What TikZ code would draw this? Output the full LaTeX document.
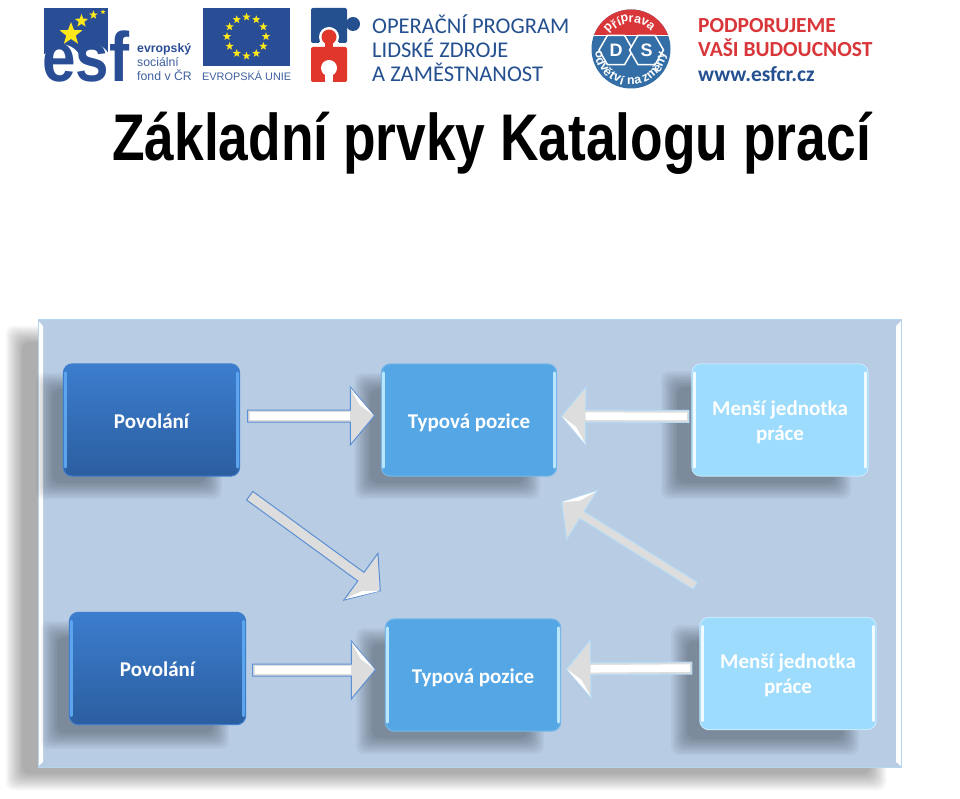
\documentclass[tikz,border=0pt]{standalone}
\usepackage{fontspec}
\setmainfont{Liberation Sans}
\newfontfamily\carlito{Carlito}
\usetikzlibrary{calc,shapes.geometric}
\definecolor{panelc}{HTML}{B8CCE4}
\definecolor{esfblue}{HTML}{2A4E96}
\definecolor{esftext}{HTML}{40609F}
\definecolor{oplzblue}{HTML}{24508F}
\definecolor{oplzred}{HTML}{E0362C}
\definecolor{dsblue}{HTML}{336FA6}
\definecolor{dsred}{HTML}{D9363A}
\definecolor{starc}{HTML}{FFE81A}
\definecolor{arrowgray}{HTML}{DDDDDD}
\definecolor{arrowblue}{HTML}{5B8FD3}
\definecolor{arrowpale}{HTML}{B4DCF6}
\definecolor{midblue}{HTML}{55A6E4}
\definecolor{paleblue}{HTML}{9EDCFD}
\definecolor{boxtop}{HTML}{3C7DCE}
\definecolor{boxbot}{HTML}{2B5E9F}
\definecolor{darkstrip}{HTML}{5CA5EC}
\tikzset{
  fatarrow/.style={line width=1pt,line join=miter,fill=arrowgray,
    to path={
      ($(\tikztostart)!#1!90:(\tikztotarget)$)
      -- ($($(\tikztotarget)!24pt!(\tikztostart)$)!#1!90:(\tikztotarget)$)
      -- ($($(\tikztotarget)!24pt!(\tikztostart)$)!29pt!90:(\tikztotarget)$)
      -- (\tikztotarget)
      -- ($($(\tikztotarget)!24pt!(\tikztostart)$)!29pt!-90:(\tikztotarget)$)
      -- ($($(\tikztotarget)!24pt!(\tikztostart)$)!#1!-90:(\tikztotarget)$)
      -- ($(\tikztostart)!#1!-90:(\tikztotarget)$) -- cycle}},
  bluearrow/.style={fatarrow=#1,draw=arrowblue},
  palearrow/.style={fatarrow=#1,draw=arrowpale},
  boxtext/.style={font=\carlito\bfseries\fontsize{21}{25}\selectfont,text=white,align=center},
  boxshape/.style={draw=none,rounded corners=9pt,inner sep=0pt,minimum width=#1,minimum height=112pt,boxtext},
  darkbox/.style={boxshape=176pt,top color=boxtop,bottom color=boxbot},
  midbox/.style={boxshape=175pt,fill=midblue},
  palebox/.style={boxshape=176pt,fill=paleblue},
  eustar/.style={star,star points=5,star point ratio=2.4,fill=starc,draw=none,inner sep=0pt,minimum size=#1},
  lbl/.style={inner sep=0pt,anchor=base west},
  esfsmall/.style={lbl,text=esftext,font=\fontsize{12.3}{13}\selectfont},
  oplztext/.style={lbl,text=oplzblue,font=\carlito\fontsize{22.5}{24}\selectfont},
  redtext/.style={lbl,text=dsred,font=\carlito\bfseries\fontsize{21.5}{24}\selectfont},
  hexnut/.style={regular polygon,regular polygon sides=6,draw=white,line width=1.5pt,fill=dsblue,
     minimum size=34pt,inner sep=0pt,text=white,font=\bfseries\fontsize{18}{18}\selectfont},
  ringletter/.style={inner sep=0pt,text=white,font=\bfseries\fontsize{12.5}{12.5}\selectfont},
}
\newcommand\lowered[2]{\raisebox{-#1}[\height][\depth]{#2}}
\newcommand\softshadow[6]{%
  \foreach \k in {9,7,5,3,1,-1,-3,-5,-7}{
    \fill[#5,opacity=#6,rounded corners=8pt]
      (#1-\k,#2-\k) rectangle (#3+\k,#4+\k);}}
\newcommand\edgestrip[4]{%
  \draw[#2,line width=3pt,line cap=round] ($(#1.north west)+(#3,9)$) -- ($(#1.south west)+(#3,-9)$);
  \draw[#2,line width=3pt,line cap=round] ($(#1.north east)+(-#3,9)$) -- ($(#1.south east)+(-#3,-9)$);
  \draw[#4,line width=1pt,rounded corners=9pt] (#1.north west) rectangle (#1.south east);}
\newcommand\headbevel[3]{%
  \coordinate (hb) at ($(#2)!24pt!(#1)$);
  \coordinate (hc) at ($(hb)!28pt!#3:(#2)$);
  \fill[white] (hc) -- (#2) -- ($(hc)!.5!(#2)!4pt!(hb)$) -- cycle;}
\newcommand\shaftstripe[2]{%
  \draw[white,line width=7.5pt] ($(#1)!2pt!(#2)$) -- ($(#2)!24pt!(#1)$);}
\begin{document}
\begin{tikzpicture}[x=1pt,y=-1pt]
\useasboundingbox (0,0) rectangle (960,799);
\fill[white] (0,0) rectangle (960,799);
%% ESF logo
\fill[esfblue] (44,8) rectangle (108,54);
\fill[white] (62,65) ellipse (20 and 20.5);
\fill[white] (94,65) ellipse (17.5 and 20.5);
\node[lbl,text=esfblue,font=\bfseries\fontsize{70}{70}\selectfont] (esf) at (42,82) {\scalebox{.86}[1]{esf}};
\node[eustar=24pt] (st1) at (71,34) {};
\node[eustar=14pt] (st2) at (81.5,21) {};
\node[eustar=9pt] (st3) at (93.5,15) {};
\node[eustar=5pt] (st4) at (103,12) {};
\node[lbl,text=esfblue,font=\bfseries\fontsize{12.3}{13}\selectfont] (e1) at (137,53) {evropský};
\node[esfsmall] (e2) at (137,67) {sociální};
\node[esfsmall] (e3) at (137,81) {fond v ČR};
%% EU flag
\fill[esfblue] (203,8) rectangle (290,66);
\foreach \i in {0,30,...,330}{
  \node[eustar=8.5pt] (eu\i) at ($(246.5,36.5)+(\i:19.5)$) {};}
\node[esfsmall,font=\fontsize{10.9}{13}\selectfont] (e4) at (202,81) {EVROPSKÁ UNIE};
%% OP LZ logo
\fill[oplzblue,rounded corners=2pt] (311,8) rectangle (347,43);
\fill[oplzblue] (345,20) rectangle (352,28);
\fill[oplzblue] (353,24) circle (7);
\fill[white] (329,37) circle (10);
\fill[white] (319,42) rectangle (339,47);
\fill[oplzred,rounded corners=2pt] (311,47) rectangle (347,82);
\fill[oplzred] (329,37) circle (7.5);
\fill[oplzred] (325,42) rectangle (333,48);
\fill[white] (329,68) circle (8);
\fill[white] (325,70) rectangle (333,83);
\node[oplztext] (o1) at (372,34) {OPERAČNÍ PROGRAM};
\node[oplztext] (o2) at (372,58) {LIDSKÉ ZDROJE};
\node[oplztext] (o3) at (372,82) {A ZAMĚSTNANOST};
%% DS logo
\coordinate (dsc) at (631,49);
\begin{scope}
\clip (dsc) circle (39.5);
\fill[dsblue] (590,8) rectangle (672,90);
\fill[dsred] (590,8) rectangle (672,35);
\fill[white] (590,35) rectangle (672,36.5);
\end{scope}
\node[hexnut] (dsd) at (616,50) {D};
\node[hexnut] (dss) at (646.5,50) {S};
\foreach \c/\a [count=\n] in {p/137,ř/124,í/114,p/102,r/90,a/77,v/63,a/49}{
  \node[ringletter,rotate=\a-90] (dt\n) at ($(dsc)+({cos(\a)*30},{-sin(\a)*30})$) {\c};}
\foreach \c/\a [count=\n] in {o/190,d/202,v/214,ě/225,t/235,v/245,í/254,n/270,a/282,z/297,m/311,ě/324,n/336,y/348}{
  \node[ringletter,rotate=\a+90] (db\n) at ($(dsc)+({cos(\a)*32.5},{-sin(\a)*32.5})$) {\c};}
%% right claim
\node[redtext] (r1) at (698,33) {PODPORUJEME};
\node[redtext] (r2) at (698,57) {VAŠI BUDOUCNOST};
\node[lbl,text=oplzblue,font=\carlito\bfseries\fontsize{21.5}{24}\selectfont] (r3) at (698,82) {www.esfcr.cz};
%% title
\node[lbl,text=black,font=\bfseries\fontsize{66}{70}\selectfont] (title) at (112,160.5) {\scalebox{.808}[1]{Základní prvky Katalogu prací}};
%% panel
\softshadow{15}{335}{877}{781}{black}{0.04}
\fill[panelc] (38,319) rectangle (901,767);
\fill[white] (38.5,321) -- (43,326) -- (43,762) -- (38.5,766) -- cycle;
\fill[white] (901,321) -- (896,326) -- (896,762) -- (901,766) -- cycle;
\draw[draw=arrowpale!60!panelc,line width=1pt] (38,319) rectangle (901,767);
%% box shadows
\softshadow{45}{382}{213}{490}{black}{0.04}
\softshadow{363}{382}{531}{490}{black}{0.04}
\softshadow{670}{380}{842}{490}{black}{0.04}
\softshadow{50}{630}{220}{740}{black}{0.04}
\softshadow{365}{637}{535}{745}{black}{0.04}
\softshadow{680}{634}{850}{746}{black}{0.04}
%% boxes
\node[darkbox] (b1) at (151.5,420) {\lowered{1pt}{Povolání}};
\node[midbox] (b2) at (469,420) {\lowered{3pt}{Typová pozice}};
\node[palebox] (b3) at (780,420) {\lowered{3pt}{\begin{tabular}{@{}c@{}}Menší jednotka\\práce\end{tabular}}};
\node[darkbox] (b4) at (157.5,668.5) {\lowered{1pt}{Povolání}};
\node[midbox] (b5) at (473,675) {\lowered{3pt}{Typová pozice}};
\node[palebox] (b6) at (788,673.5) {\lowered{2pt}{\begin{tabular}{@{}c@{}}Menší jednotka\\práce\end{tabular}}};
\edgestrip{b1}{darkstrip}{2.5}{boxtop}
\edgestrip{b4}{darkstrip}{2.5}{boxtop}
\edgestrip{b2}{paleblue!70!white}{2.5}{midblue!80!white}
\edgestrip{b5}{paleblue!70!white}{2.5}{midblue!80!white}
\edgestrip{b3}{white!85!paleblue}{2.5}{paleblue!60!white}
\edgestrip{b6}{white!85!paleblue}{2.5}{paleblue!60!white}
%% arrows
\coordinate (a1s) at ($(b1.east)+(8,-4)$);
\coordinate (a1e) at ($(b2.west)+(-7,-4)$);
\coordinate (a2s) at ($(b3.west)+(-3,-3.5)$);
\coordinate (a2e) at ($(b2.east)+(5,-4)$);
\coordinate (a3s) at ($(b1.south east)+(10,19.5)$);
\coordinate (a3e) at ($(b5.north west)+(-5,-28)$);
\coordinate (a4s) at ($(b6.north west)+(-4.5,-31.5)$);
\coordinate (a4e) at ($(b2.south east)+(5,26)$);
\coordinate (a5s) at ($(b4.east)+(7,1.5)$);
\coordinate (a5e) at ($(b5.west)+(-10,-5)$);
\coordinate (a6s) at ($(b6.west)+(-8,-5.5)$);
\coordinate (a6e) at ($(b5.east)+(6,-6)$);
\draw[bluearrow=6pt] (a1s) to (a1e);
\shaftstripe{a1s}{a1e}
\headbevel{a1s}{a1e}{90}
\draw[palearrow=6pt] (a2s) to (a2e);
\shaftstripe{a2s}{a2e}
\headbevel{a2s}{a2e}{90}
\draw[bluearrow=5.3pt] (a3s) to (a3e);
\headbevel{a3s}{a3e}{-90}
\draw[palearrow=4.2pt] (a4s) to (a4e);
\headbevel{a4s}{a4e}{-90}
\draw[bluearrow=6pt] (a5s) to (a5e);
\shaftstripe{a5s}{a5e}
\headbevel{a5s}{a5e}{90}
\draw[palearrow=6pt] (a6s) to (a6e);
\shaftstripe{a6s}{a6e}
\headbevel{a6s}{a6e}{90}
\end{tikzpicture}
\end{document}
